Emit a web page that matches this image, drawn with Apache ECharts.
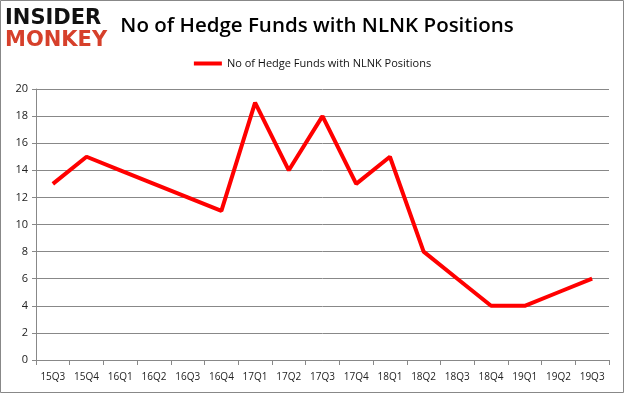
<!DOCTYPE html>
<html><head><meta charset="utf-8">
<script src="https://cdn.jsdelivr.net/npm/echarts@6/dist/echarts.min.js"></script>
<style>html,body{margin:0;padding:0;background:#fff}#c{width:625px;height:394px}</style>
</head><body><div id="c"></div>
<script>
const categories = ['15Q3','15Q4','16Q1','16Q2','16Q3','16Q4','17Q1','17Q2','17Q3','17Q4','18Q1','18Q2','18Q3','18Q4','19Q1','19Q2','19Q3'];
const seriesName = 'No of Hedge Funds with NLNK Positions';
const values = [13,15,14,13,12,11,19,14,18,13,15,8,6,4,4,5,6];
const chartTitle = 'No of Hedge Funds with NLNK Positions';

const chart = echarts.init(document.getElementById('c'), null, {renderer:'canvas'});
chart.setOption({
  animation:false,
  backgroundColor:'#fff',
  title:{text:chartTitle,left:312,top:11,textAlign:'center',
    textStyle:{fontFamily:'Open Sans',fontWeight:'600',fontSize:20.5,color:'#000'}},
  graphic:[
    {type:'rect',shape:{x:0.5,y:0.5,width:623,height:392},style:{fill:'none',stroke:'#888',lineWidth:1}},
    {type:'text',left:5,top:8,style:{text:'INSIDER',fontFamily:'DejaVu Sans',fontWeight:'bold',fontSize:21,fill:'#111'}},
    {type:'text',left:5,top:30,style:{text:'MONKEY',fontFamily:'DejaVu Sans',fontWeight:'bold',fontSize:21,fill:'#d6402b'}}
  ],
  legend:{top:53,left:'center',itemWidth:28,itemHeight:4,itemGap:2,icon:'rect',
    textStyle:{fontFamily:'Open Sans',fontSize:11,color:'#111'},data:[seriesName]},
  grid:{left:36,right:16,top:89,bottom:34},
  xAxis:{type:'category',data:categories,boundaryGap:true,
    axisLine:{lineStyle:{color:'#888'}},
    axisTick:{show:true,alignWithLabel:false,length:5,lineStyle:{color:'#888'}},
    axisLabel:{color:'#222',fontFamily:'Open Sans',fontSize:10,margin:12,interval:0}},
  yAxis:{type:'value',min:0,max:20,interval:2,
    axisLine:{show:true,lineStyle:{color:'#888'}},
    axisTick:{show:true,length:4,lineStyle:{color:'#888'}},
    splitLine:{lineStyle:{color:'#888'}},
    axisLabel:{color:'#222',fontFamily:'Open Sans',fontSize:11,margin:8}},
  series:[{name:seriesName,type:'line',data:values,symbol:'none',
    lineStyle:{color:'#ff0000',width:4},itemStyle:{color:'#ff0000'}}]
});
</script></body></html>
